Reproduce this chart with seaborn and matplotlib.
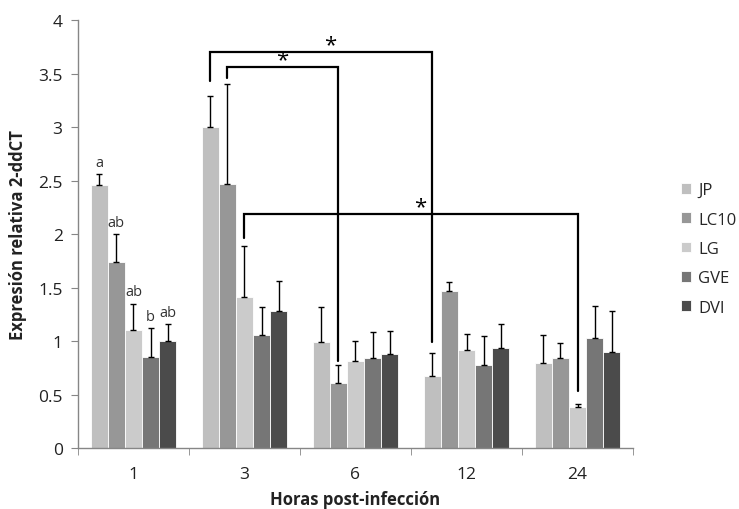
import matplotlib
matplotlib.use("Agg")
import matplotlib.pyplot as plt
import seaborn as sns
import pandas as pd
import numpy as np

hours = ["1", "3", "6", "12", "24"]
strains = ["JP", "LC10", "LG", "GVE", "DVI"]
colors = ["#bfbfbf", "#979797", "#cbcbcb", "#767676", "#4b4b4b"]

jp   = [2.46, 3.00, 0.99, 0.67, 0.79]
lc10 = [1.74, 2.47, 0.61, 1.47, 0.845]
lg   = [1.10, 1.41, 0.815, 0.92, 0.385]
gve  = [0.85, 1.06, 0.84, 0.775, 1.025]
dvi  = [1.00, 1.28, 0.875, 0.935, 0.90]

jp_err   = [0.10, 0.29, 0.325, 0.215, 0.27]
lc10_err = [0.26, 0.93, 0.165, 0.085, 0.14]
lg_err   = [0.25, 0.48, 0.185, 0.15, 0.025]
gve_err  = [0.27, 0.26, 0.245, 0.27, 0.30]
dvi_err  = [0.16, 0.28, 0.215, 0.225, 0.38]

letters_group1 = ["a", "ab", "ab", "b", "ab"]

values = [jp, lc10, lg, gve, dvi]
errors = [jp_err, lc10_err, lg_err, gve_err, dvi_err]

rows = []
for s, vals, errs in zip(strains, values, errors):
    for h, v, e in zip(hours, vals, errs):
        rows.append({"hora": h, "cepa": s, "valor": v, "err": e})
df = pd.DataFrame(rows)

sns.set_style("white")
plt.rcParams["font.family"] = ["Open Sans", "DejaVu Sans"]

fig = plt.figure(figsize=(7.39, 5.10), dpi=100)
ax = fig.add_axes([0.1055, 0.1196, 0.7511, 0.8392])

sns.barplot(data=df, x="hora", y="valor", hue="cepa", order=hours,
            hue_order=strains, palette=colors, width=0.77, errorbar=None,
            edgecolor="white", linewidth=0.6, ax=ax, saturation=1)

# error bars (upward only)
centers = {}
for s, cont in zip(strains, ax.containers):
    sub = df[df.cepa == s].set_index("hora").loc[hours]
    xs = [p.get_x() + p.get_width() / 2 for p in cont.patches]
    centers[s] = xs
    ax.errorbar(xs, sub["valor"].values,
                yerr=[np.zeros(len(xs)), sub["err"].values],
                fmt="none", ecolor="black", elinewidth=1.0, capsize=2.5,
                capthick=1.0, zorder=3)

# significance letters for hour 1
for s, lab in zip(strains, letters_group1):
    sub = df[(df.cepa == s) & (df.hora == "1")].iloc[0]
    ax.text(centers[s][0], sub["valor"] + sub["err"] + 0.04, lab,
            ha="center", va="bottom", fontsize=10.5, color="#333333")

# significance brackets
def bracket(x1, y1, x2, y2, ytop, star_x):
    ax.plot([x1, x1, x2, x2], [y1, ytop, ytop, y2], color="black", lw=1.6,
            zorder=4, solid_joinstyle="miter")
    ax.text(star_x, ytop - 0.03, "*", ha="center", va="bottom",
            fontsize=16, color="black")

bracket(centers["JP"][1], 3.43, centers["JP"][3], 0.99, 3.70, 1.775)
bracket(centers["LC10"][1], 3.46, centers["LC10"][2], 0.81, 3.56, 1.34)
bracket(centers["LG"][1], 1.96, centers["LG"][4], 0.53, 2.19, 2.585)

ax.set_ylim(0, 4)
ax.set_xlim(-0.5, 4.5)
ax.set_yticks(np.arange(0, 4.01, 0.5))
ax.set_yticklabels(["0", "0.5", "1", "1.5", "2", "2.5", "3", "3.5", "4"])
ax.set_xticks(range(5))
ax.set_xticklabels(hours)
ax.set_xticks(np.arange(-0.5, 4.6, 1.0), minor=True)
ax.tick_params(axis="x", which="major", length=0, labelsize=12.5, pad=13,
               labelcolor="#222222")
ax.tick_params(axis="x", which="minor", length=5, color="#868686",
               direction="out", bottom=True)
ax.tick_params(axis="y", length=5, color="#868686", direction="out",
               labelsize=12.5, left=True, pad=6, labelcolor="#222222")

for sp in ["top", "right"]:
    ax.spines[sp].set_visible(False)
for sp in ["left", "bottom"]:
    ax.spines[sp].set_color("#868686")
    ax.spines[sp].set_linewidth(1.0)

ax.set_xlabel("Horas post-infección", fontsize=12, fontweight="bold",
              labelpad=6, color="#222222")
ax.set_ylabel("Expresión relativa 2-ddCT", fontsize=12, fontweight="bold",
              labelpad=8, color="#222222")

handles, labels = ax.get_legend_handles_labels()
ax.legend(handles, labels, loc="center left", bbox_to_anchor=(1.06, 0.465),
          frameon=False, fontsize=12, handlelength=0.6, handleheight=0.6,
          handletextpad=0.4, labelspacing=0.8)

fig.savefig("out.png", dpi=100)
